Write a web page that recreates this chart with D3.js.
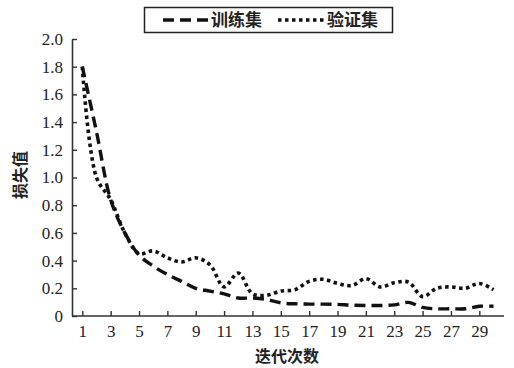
<!DOCTYPE html>
<html>
<head>
<meta charset="utf-8">
<script src="https://cdn.jsdelivr.net/npm/d3@7"></script>
<style>
  body { margin: 0; background: #fff; }
  .cjk { font-family: "Noto Sans CJK SC", sans-serif; font-weight: bold; fill: #222; }
</style>
</head>
<body>
<figure id="chart" style="margin:0"></figure>
<script>
// epochs 1..30
const epochs = d3.range(1, 31);
const trainLoss = [1.80, 1.33, 0.84, 0.60, 0.44, 0.36, 0.30, 0.25, 0.20, 0.18,
                   0.16, 0.13, 0.13, 0.12, 0.095, 0.088, 0.086, 0.086, 0.084, 0.078,
                   0.076, 0.076, 0.08, 0.098, 0.062, 0.052, 0.052, 0.052, 0.07, 0.07];
const valLoss = [1.80, 1.00, 0.84, 0.60, 0.45, 0.47, 0.42, 0.39, 0.42, 0.37,
                 0.21, 0.31, 0.16, 0.15, 0.18, 0.19, 0.25, 0.265, 0.235, 0.22,
                 0.27, 0.21, 0.24, 0.245, 0.14, 0.20, 0.21, 0.20, 0.235, 0.19];
const yTicks = [0, 0.2, 0.4, 0.6, 0.8, 1.0, 1.2, 1.4, 1.6, 1.8, 2.0];
const xTicks = [1, 3, 5, 7, 9, 11, 13, 15, 17, 19, 21, 23, 25, 27, 29];
const seriesNames = ["训练集", "验证集"];

const width = 514, height = 368;
const plotLeft = 72, plotRight = 504, plotTop = 39, plotBottom = 316;
const serif = "'Liberation Serif', serif";

const svg = d3.select("figure#chart")
  .append("svg")
  .attr("width", width)
  .attr("height", height);

const x = d3.scaleLinear().domain([1, 30]).range([82.3, 493.5]);
const y = d3.scaleLinear().domain([0, 2]).range([plotBottom, plotTop]);

// y axis
const yAxis = svg.append("g")
  .attr("transform", "translate(" + plotLeft + ",0)")
  .call(d3.axisLeft(y).tickValues(yTicks).tickSizeInner(-5).tickSizeOuter(0)
    .tickPadding(9)
    .tickFormat(d => d === 0 ? "0" : d3.format(".1f")(d)));
yAxis.select(".domain").attr("stroke", "#333").attr("stroke-width", 1.6);
yAxis.selectAll(".tick line").attr("stroke", "#333").attr("stroke-width", 1.4);
yAxis.selectAll(".tick text").attr("font-family", serif).attr("font-size", 17).attr("fill", "#222");

// x axis
const xAxis = svg.append("g")
  .attr("transform", "translate(0," + plotBottom + ")")
  .call(d3.axisBottom(x).tickValues(xTicks).tickSizeInner(-5).tickSizeOuter(0)
    .tickPadding(9).tickFormat(d3.format("d")));
xAxis.select(".domain").attr("d", "M" + plotLeft + ",0H" + plotRight)
  .attr("stroke", "#333").attr("stroke-width", 1.6);
xAxis.selectAll(".tick line").attr("stroke", "#333").attr("stroke-width", 1.4);
xAxis.selectAll(".tick text").attr("font-family", serif).attr("font-size", 17).attr("fill", "#222");

// axis titles
svg.append("text")
  .attr("class", "cjk")
  .attr("x", 287).attr("y", 362)
  .attr("text-anchor", "middle")
  .style("font-size", "16px")
  .text("迭代次数");

svg.append("text")
  .attr("class", "cjk")
  .attr("transform", "translate(26,175) rotate(-90)")
  .attr("text-anchor", "middle")
  .style("font-size", "16px")
  .text("损失值");

// lines
const line = d3.line()
  .x((d, i) => x(epochs[i]))
  .y(d => y(d))
  .curve(d3.curveCatmullRom.alpha(0.5));

svg.append("path")
  .datum(valLoss)
  .attr("d", line)
  .attr("fill", "none")
  .attr("stroke", "#111")
  .attr("stroke-width", 3.6)
  .attr("stroke-dasharray", "3.5,3.5");

svg.append("path")
  .datum(trainLoss)
  .attr("d", line)
  .attr("fill", "none")
  .attr("stroke", "#111")
  .attr("stroke-width", 3.4)
  .attr("stroke-dasharray", "11,6");

// legend
const legend = svg.append("g");
legend.append("rect")
  .attr("x", 144.5).attr("y", 7.5).attr("width", 248).attr("height", 25)
  .attr("fill", "#fff").attr("stroke", "#222").attr("stroke-width", 1.5);

legend.append("line")
  .attr("x1", 163).attr("x2", 209).attr("y1", 20).attr("y2", 20)
  .attr("stroke", "#111").attr("stroke-width", 3.4).attr("stroke-dasharray", "11,6");
legend.append("line")
  .attr("x1", 278).attr("x2", 325).attr("y1", 20).attr("y2", 20)
  .attr("stroke", "#111").attr("stroke-width", 3.6).attr("stroke-dasharray", "3.5,3.5");

legend.selectAll("text.name")
  .data(seriesNames)
  .enter()
  .append("text")
  .attr("class", "name cjk")
  .attr("x", (d, i) => i === 0 ? 211 : 327)
  .attr("y", 26)
  .style("font-size", "17px")
  .text(d => d);
</script>
</body>
</html>
